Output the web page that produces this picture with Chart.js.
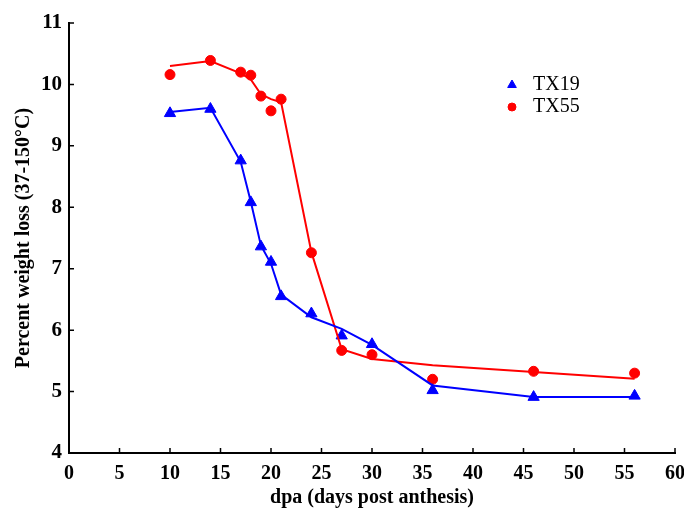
<!DOCTYPE html>
<html>
<head>
<meta charset="utf-8">
<script src="https://cdn.jsdelivr.net/npm/chart.js@4.4.1/dist/chart.umd.min.js"></script>
<style>
  html, body { margin: 0; padding: 0; background: #fff; }
  #wrap { width: 684px; height: 510px; }
</style>
</head>
<body>
<div id="wrap"><canvas id="weightChart" width="684" height="510"></canvas></div>
<script>
// days post anthesis
const days = [10, 14, 17, 18, 19, 20, 21, 24, 27, 30, 36, 46, 56];
// measured values
const tx19 = [9.53, 9.60, 8.76, 8.08, 7.36, 7.11, 6.55, 6.27, 5.91, 5.77, 5.02, 4.91, 4.93];
const tx55 = [10.16, 10.39, 10.20, 10.15, 9.81, 9.57, 9.76, 7.26, 5.67, 5.60, 5.20, 5.33, 5.30];
// smoothed curves
const tx19Fit = [9.55, 9.62, 8.74, 8.09, 7.38, 7.08, 6.58, 6.21, 6.02, 5.76, 5.10, 4.91, 4.91];
const tx55Fit = [10.30, 10.38, 10.18, 10.08, 9.84, 9.76, 9.71, 7.27, 5.69, 5.53, 5.43, 5.32, 5.21];

const seriesNames = ['TX19', 'TX55'];
const xTicks = [0, 5, 10, 15, 20, 25, 30, 35, 40, 45, 50, 55, 60];
const yTicks = [4, 5, 6, 7, 8, 9, 10, 11];

const BLUE = '#0000ff';
const RED = '#ff0000';
const SERIF = "'Liberation Serif', 'Times New Roman', serif";

const toXY = (ys) => days.map((d, i) => ({ x: d, y: ys[i] }));

// short tick marks pointing into the plot
const innerTicks = {
    id: 'innerTicks',
    afterDatasetsDraw(chart) {
        const { ctx, chartArea, scales } = chart;
        ctx.save();
        ctx.strokeStyle = '#000';
        ctx.lineWidth = 1.5;
        ctx.beginPath();
        xTicks.forEach(v => {
            const px = scales.x.getPixelForValue(v);
            ctx.moveTo(px, chartArea.bottom);
            ctx.lineTo(px, chartArea.bottom - 5);
        });
        yTicks.forEach(v => {
            const py = scales.y.getPixelForValue(v);
            ctx.moveTo(chartArea.left, py);
            ctx.lineTo(chartArea.left + 5, py);
        });
        ctx.stroke();
        ctx.restore();
    }
};

// legend in the upper right of the plot
const sideLegend = {
    id: 'sideLegend',
    afterDraw(chart) {
        const { ctx } = chart;
        const rows = [
            { style: 'triangle', color: BLUE, y: 85, r: 5 },
            { style: 'circle', color: RED, y: 107, r: 4 }
        ];
        ctx.save();
        rows.forEach((row, i) => {
            ctx.fillStyle = row.color;
            ctx.strokeStyle = row.color;
            Chart.helpers.drawPoint(ctx, { pointStyle: row.style, radius: row.r, borderWidth: 1 }, 512, row.y);
            ctx.fillStyle = '#000';
            ctx.font = '20px ' + SERIF;
            ctx.textBaseline = 'middle';
            ctx.textAlign = 'left';
            ctx.fillText(seriesNames[i], 533, row.y);
        });
        ctx.restore();
    }
};

const ctx = document.getElementById('weightChart').getContext('2d');
new Chart(ctx, {
    type: 'scatter',
    data: {
        datasets: [
            {
                label: 'TX19 fit',
                data: toXY(tx19Fit),
                showLine: true,
                borderColor: BLUE,
                borderWidth: 2,
                pointRadius: 0,
                tension: 0
            },
            {
                label: 'TX55 fit',
                data: toXY(tx55Fit),
                showLine: true,
                borderColor: RED,
                borderWidth: 2,
                pointRadius: 0,
                tension: 0
            },
            {
                label: seriesNames[0],
                data: toXY(tx19),
                pointStyle: 'triangle',
                pointRadius: 6.5,
                backgroundColor: BLUE,
                borderColor: BLUE,
                borderWidth: 1
            },
            {
                label: seriesNames[1],
                data: toXY(tx55),
                pointStyle: 'circle',
                pointRadius: 5,
                backgroundColor: RED,
                borderColor: RED,
                borderWidth: 1
            }
        ]
    },
    options: {
        responsive: false,
        animation: false,
        layout: {
            padding: { top: 23, right: 9, left: 0, bottom: 0 }
        },
        plugins: {
            legend: { display: false },
            tooltip: { enabled: false }
        },
        scales: {
            x: {
                type: 'linear',
                min: 0,
                max: 60,
                afterBuildTicks: (scale) => { scale.ticks = xTicks.map(v => ({ value: v })); },
                afterFit: (scale) => {
                    scale.height = 57;
                    scale.paddingLeft = 0;
                    scale.paddingRight = 0;
                },
                grid: { display: false, drawTicks: false },
                border: { display: true, color: '#000', width: 2 },
                ticks: {
                    color: '#000',
                    padding: 9,
                    maxRotation: 0,
                    font: { family: SERIF, size: 20, weight: 'bold' }
                },
                title: {
                    display: true,
                    text: 'dpa (days post anthesis)',
                    color: '#000',
                    padding: { top: 1, bottom: 0 },
                    font: { family: SERIF, size: 20, weight: 'bold' }
                }
            },
            y: {
                min: 4,
                max: 11,
                afterBuildTicks: (scale) => { scale.ticks = yTicks.map(v => ({ value: v })); },
                afterFit: (scale) => { scale.width = 69; },
                grid: { display: false, drawTicks: false },
                border: { display: true, color: '#000', width: 2 },
                ticks: {
                    color: '#000',
                    padding: 7,
                    font: { family: SERIF, size: 21, weight: 'bold' }
                },
                title: {
                    display: true,
                    text: 'Percent weight loss (37-150°C)',
                    color: '#000',
                    padding: { top: 12, bottom: 0 },
                    font: { family: SERIF, size: 20, weight: 'bold' }
                }
            }
        }
    },
    plugins: [innerTicks, sideLegend]
});
</script>
</body>
</html>
